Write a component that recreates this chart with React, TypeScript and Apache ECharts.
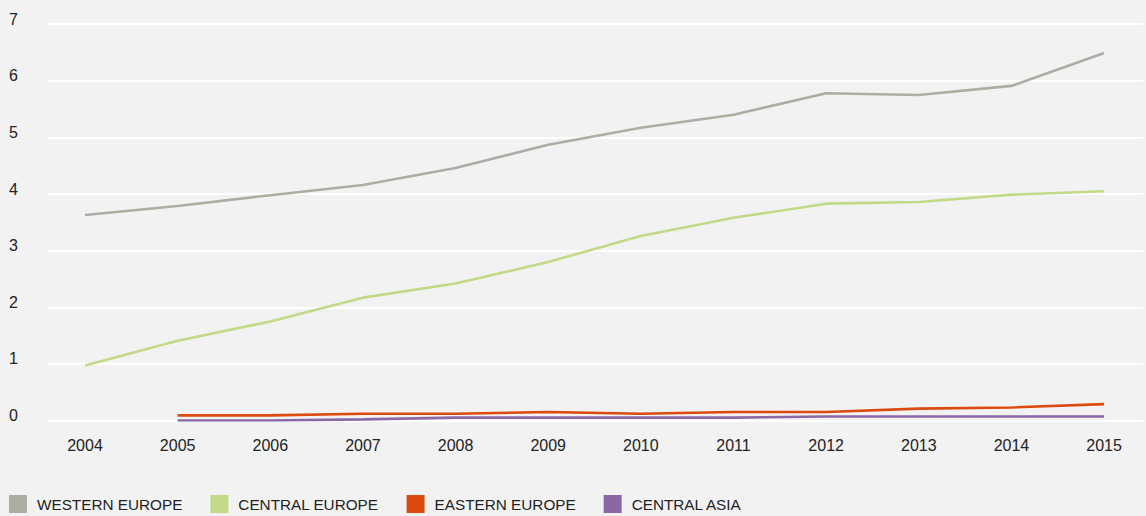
import React, { useEffect, useRef } from "react";
import * as echarts from "echarts";

const years = [2004, 2005, 2006, 2007, 2008, 2009, 2010, 2011, 2012, 2013, 2014, 2015];
const westernEurope = [3.63, 3.79, 3.98, 4.16, 4.46, 4.87, 5.17, 5.40, 5.78, 5.75, 5.91, 6.49];
const centralEurope = [0.97, 1.41, 1.75, 2.17, 2.42, 2.80, 3.26, 3.58, 3.83, 3.86, 3.99, 4.05];
const easternEurope = [null, 0.09, 0.09, 0.12, 0.12, 0.15, 0.12, 0.15, 0.15, 0.21, 0.23, 0.29];
const centralAsia = [null, 0.0, 0.0, 0.02, 0.05, 0.05, 0.05, 0.05, 0.07, 0.07, 0.07, 0.07];
const seriesNames = ["WESTERN EUROPE", "CENTRAL EUROPE", "EASTERN EUROPE", "CENTRAL ASIA"];
const seriesColors = ["#adada4", "#c2da88", "#dc4a10", "#8a68a6"];
const yTicks = [0, 1, 2, 3, 4, 5, 6, 7];

const pairs = (vals: (number | null)[]) =>
  years.map((y, i) => [y, vals[i]]).filter((p) => p[1] !== null);

export default function App() {
  const ref = useRef<HTMLDivElement>(null);
  useEffect(() => {
    if (!ref.current) return;
    const chart = echarts.init(ref.current, null, { renderer: "svg" });
    const all = [westernEurope, centralEurope, easternEurope, centralAsia];
    chart.setOption({
      animation: false,
      backgroundColor: "#f2f2f2",
      textStyle: { fontFamily: "Liberation Sans, Arial, Helvetica, sans-serif" },
      grid: { left: 47, right: 3, top: 24.2, bottom: 95.5 },
      legend: {
        left: 9,
        top: 495,
        padding: 0,
        itemWidth: 18,
        itemHeight: 18,
        itemGap: 28,
        icon: "rect",
        textStyle: { color: "#222", fontSize: 15.3, padding: [0, 0, 0, 5] },
        data: seriesNames,
      },
      xAxis: {
        type: "value",
        min: 2003.59,
        max: 2015.42,
        axisLine: { show: false },
        axisTick: { show: false },
        splitLine: { show: false },
        axisLabel: {
          customValues: years,
          formatter: (v: number) => String(v),
          color: "#222",
          fontSize: 16,
          margin: 17,
        },
      },
      yAxis: {
        type: "value",
        min: 0,
        max: 7,
        interval: 1,
        axisLine: { show: false },
        axisTick: { show: false },
        splitLine: { lineStyle: { color: "#ffffff", width: 2 } },
        axisLabel: {
          customValues: yTicks,
          color: "#222",
          fontSize: 16,
          align: "left",
          margin: 38,
          verticalAlign: "bottom",
          lineHeight: 10,
        },
      },
      series: all.map((vals, i) => ({
        name: seriesNames[i],
        type: "line",
        data: pairs(vals),
        showSymbol: false,
        symbol: "none",
        color: seriesColors[i],
        lineStyle: { color: seriesColors[i], width: 2.6 },
      })),
    });
    return () => chart.dispose();
  }, []);
  return <div ref={ref} style={{ width: 1146, height: 516, position: "absolute", left: 0, top: 0 }} />;
}
